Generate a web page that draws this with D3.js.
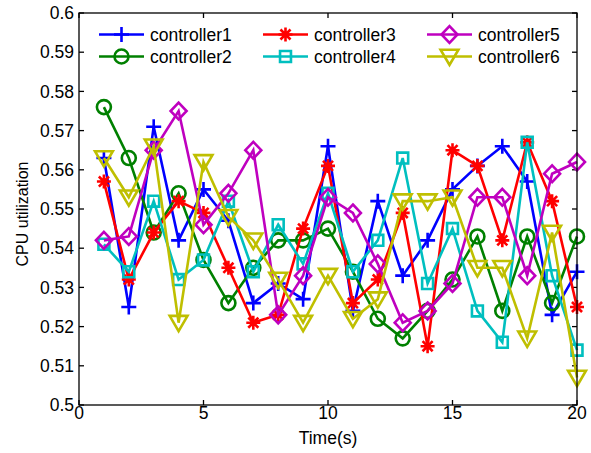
<!DOCTYPE html>
<html><head><meta charset="utf-8">
<script src="https://cdn.jsdelivr.net/npm/d3@7"></script>
<style>body{margin:0;background:#fff}svg{display:block}text{font-family:"Liberation Sans",Arial,sans-serif;fill:#000}</style>
</head><body><div id="chart"></div>
<script>
const times = d3.range(1, 21);
const seriesNames = ["controller1","controller2","controller3","controller4","controller5","controller6"];
const controller1 = [0.563,0.525,0.571,0.542,0.555,0.547,0.526,0.531,0.527,0.566,0.524,0.552,0.533,0.542,0.555,0.561,0.566,0.557,0.523,0.534];
const controller2 = [0.576,0.563,0.544,0.554,0.537,0.526,0.535,0.542,0.542,0.545,0.534,0.522,0.517,0.524,0.532,0.543,0.524,0.543,0.526,0.543];
const controller3 = [0.557,0.532,0.544,0.552,0.549,0.535,0.521,0.523,0.545,0.561,0.526,0.532,0.549,0.515,0.565,0.561,0.542,0.567,0.552,0.525];
const controller4 = [0.541,0.534,0.552,0.532,0.537,0.552,0.534,0.546,0.536,0.554,0.534,0.542,0.563,0.531,0.545,0.524,0.516,0.567,0.533,0.514];
const controller5 = [0.542,0.543,0.565,0.575,0.546,0.554,0.565,0.523,0.533,0.553,0.549,0.536,0.521,0.524,0.531,0.553,0.553,0.533,0.559,0.562];
const controller6 = [0.563,0.553,0.566,0.521,0.562,0.548,0.542,0.532,0.521,0.533,0.522,0.527,0.552,0.552,0.553,0.535,0.535,0.517,0.544,0.507];
const xTicks = [0,5,10,15,20];
const yTicks = [0.5,0.51,0.52,0.53,0.54,0.55,0.56,0.57,0.58,0.59,0.6];
const xLabel = "Time(s)";
const yLabel = "CPU utilization";
const colors = ["#0000ff","#008000","#ff0000","#00bfbf","#bf00bf","#bfbf00"];
const markers = ["plus","circle","star","square","diamond","triangle"];
const allSeries = [controller1,controller2,controller3,controller4,controller5,controller6];

const W = 591, H = 453;
const m = {l:79, r:14, t:13, b:48};
const svg = d3.select("#chart").append("svg").attr("width",W).attr("height",H);
const x = d3.scaleLinear().domain([0,20]).range([m.l, W-m.r]);
const y = d3.scaleLinear().domain([0.5,0.6]).range([H-m.b, m.t]);

function markerPath(type, s){
  const r = s/2;
  switch(type){
    case "plus": return `M${-r},0H${r}M0,${-r}V${r}`;
    case "circle": return `M${r},0A${r},${r} 0 1,1 ${-r},0A${r},${r} 0 1,1 ${r},0Z`;
    case "star": { const d=r*0.72; return `M${-r},0H${r}M0,${-r}V${r}M${-d},${-d}L${d},${d}M${-d},${d}L${d},${-d}`; }
    case "square": return `M${-r*0.78},${-r*0.78}H${r*0.78}V${r*0.78}H${-r*0.78}Z`;
    case "diamond": return `M0,${-r*1.05}L${r*1.0},0L0,${r*1.05}L${-r*1.0},0Z`;
    case "triangle": return `M${-r*1.05},${-r*0.8}H${r*1.05}L0,${r*1.0}Z`;
  }
}
const mSize = [15,14,14,14,16,17];

// axes box with inward ticks
const g = svg.append("g");
const tl = 5;
const axStyle = sel => sel.attr("stroke","#000").attr("stroke-width",1.3).attr("fill","none");
xTicks.forEach(t=>{
  g.append("line").attr("x1",x(t)).attr("x2",x(t)).attr("y1",y(0.5)).attr("y2",y(0.5)-tl).call(axStyle);
  g.append("line").attr("x1",x(t)).attr("x2",x(t)).attr("y1",y(0.6)).attr("y2",y(0.6)+tl).call(axStyle);
  g.append("text").attr("x",x(t)).attr("y",y(0.5)+14).attr("text-anchor","middle").attr("font-size",17.5).text(t);
});
yTicks.forEach(t=>{
  g.append("line").attr("x1",x(0)).attr("x2",x(0)+tl).attr("y1",y(t)).attr("y2",y(t)).call(axStyle);
  g.append("line").attr("x1",x(20)).attr("x2",x(20)-tl).attr("y1",y(t)).attr("y2",y(t)).call(axStyle);
  g.append("text").attr("x",x(0)-5).attr("y",y(t)).attr("dy","0.35em").attr("text-anchor","end").attr("font-size",17.5).text(d3.format("")(+t.toFixed(2)));
});

// data
const line = d3.line().x((d,i)=>x(times[i])).y(d=>y(d));
allSeries.forEach((s,k)=>{
  const sg = svg.append("g");
  sg.append("path").attr("d",line(s)).attr("fill","none").attr("stroke",colors[k]).attr("stroke-width",2.6).attr("stroke-linejoin","miter");
  sg.selectAll("path.mk").data(s).enter().append("path").attr("class","mk")
    .attr("transform",(d,i)=>`translate(${x(times[i])},${y(d)})`)
    .attr("d",markerPath(markers[k],mSize[k])).attr("fill","none").attr("stroke",colors[k]).attr("stroke-width",2.6);
});

svg.append("rect").attr("x",x(0)).attr("y",y(0.6)).attr("width",x(20)-x(0)).attr("height",y(0.5)-y(0.6)).call(axStyle);

// labels
svg.append("text").attr("x",(x(0)+x(20))/2).attr("y",H-9).attr("text-anchor","middle").attr("font-size",17.5).text(xLabel);
svg.append("text").attr("transform",`translate(28,214) rotate(-90)`).attr("text-anchor","middle").attr("font-size",16).text(yLabel);

// legend
const legX = [99,263,427], legY = [34.5,56.5];
seriesNames.forEach((n,k)=>{
  const cx = legX[Math.floor(k/2)], cy = legY[k%2];
  const lg = svg.append("g");
  lg.append("line").attr("x1",cx).attr("x2",cx+45).attr("y1",cy).attr("y2",cy).attr("stroke",colors[k]).attr("stroke-width",2.6);
  lg.append("path").attr("transform",`translate(${cx+22.5},${cy})`).attr("d",markerPath(markers[k],mSize[k])).attr("fill","none").attr("stroke",colors[k]).attr("stroke-width",2.6);
  lg.append("text").attr("x",cx+51).attr("y",cy).attr("dy","0.35em").attr("font-size",17.5).text(n);
});
</script></body></html>
